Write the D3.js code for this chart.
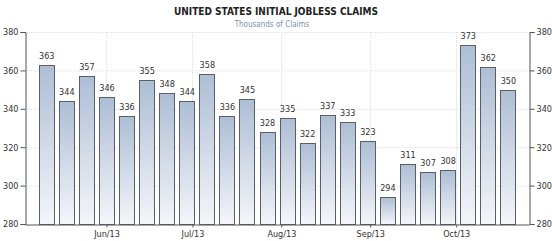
<!DOCTYPE html>
<html lang="en">
    <head>
        <meta charset="utf-8">
        <title>United States Initial Jobless Claims</title>
        <script type="text/javascript" src="https://cdn.jsdelivr.net/npm/d3@7"></script>
        <style type="text/css">
            body { margin: 0; background: #fff; }
            text { font-family: "DejaVu Sans Condensed", "DejaVu Sans", sans-serif; }
        </style>
    </head>
    <body>
        <script type="text/javascript">
            // Week ending dates and initial claims (thousands)
            var weeks = ["2013-05-11", "2013-05-18", "2013-05-25", "2013-06-01", "2013-06-08", "2013-06-15",
                         "2013-06-22", "2013-06-29", "2013-07-06", "2013-07-13", "2013-07-20", "2013-07-27",
                         "2013-08-03", "2013-08-10", "2013-08-17", "2013-08-24", "2013-08-31", "2013-09-07",
                         "2013-09-14", "2013-09-21", "2013-09-28", "2013-10-05", "2013-10-12", "2013-10-19"];
            var claims = [363, 344, 357, 346, 336, 355, 348, 344, 358, 336, 345, 328,
                          335, 322, 337, 333, 323, 294, 311, 307, 308, 373, 362, 350];
            var yTicks = [280, 300, 320, 340, 360, 380];

            var w = 552;
            var h = 241;
            // plot edges (note: "top" is taken by window.top)
            var plotLeft = 25, plotRight = 529, plotTop = 32, plotBottom = 224;
            var barWidth = 15;

            var parse = d3.timeParse("%Y-%m-%d");
            var dates = weeks.map(parse);
            var padDays = 7.4;

            var xScale = d3.scaleTime()
                .domain([d3.timeHour.offset(dates[0], -padDays * 24),
                         d3.timeHour.offset(dates[dates.length - 1], padDays * 24)])
                .range([plotLeft, plotRight]);

            var yScale = d3.scaleLinear()
                .domain([280, 380])
                .range([plotBottom, plotTop]);

            var svg = d3.select("body")
                .append("svg")
                .attr("width", w)
                .attr("height", h);

            var grad = svg.append("defs").append("linearGradient")
                .attr("id", "barGrad")
                .attr("x1", 0).attr("y1", 0).attr("x2", 0).attr("y2", 1);
            grad.append("stop").attr("offset", "0%").attr("stop-color", "#adbed5");
            grad.append("stop").attr("offset", "100%").attr("stop-color", "#f4f6fa");

            // Title
            svg.append("text")
                .attr("x", w / 2)
                .attr("y", 15)
                .attr("text-anchor", "middle")
                .attr("font-size", "10px")
                .attr("font-weight", "bold")
                .attr("fill", "#222")
                .text("UNITED STATES INITIAL JOBLESS CLAIMS");

            svg.append("text")
                .attr("x", w / 2 - 4)
                .attr("y", 27)
                .attr("text-anchor", "middle")
                .attr("font-size", "8px")
                .attr("fill", "#7d8fae")
                .text("Thousands of Claims");

            var months = d3.timeMonth.range(xScale.domain()[0], xScale.domain()[1]);

            // Grid lines
            svg.append("g")
                .selectAll("line")
                .data(yTicks.slice(1))
                .enter()
                .append("line")
                .attr("x1", plotLeft)
                .attr("x2", plotRight)
                .attr("y1", function(d) { return yScale(d) + 0.5; })
                .attr("y2", function(d) { return yScale(d) + 0.5; })
                .attr("stroke", "#d9e0ec")
                .attr("stroke-dasharray", "1,1");

            svg.append("g")
                .selectAll("line")
                .data(months)
                .enter()
                .append("line")
                .attr("x1", function(d) { return Math.round(xScale(d)) + 0.5; })
                .attr("x2", function(d) { return Math.round(xScale(d)) + 0.5; })
                .attr("y1", plotTop)
                .attr("y2", plotBottom)
                .attr("stroke", "#d9e0ec")
                .attr("stroke-dasharray", "1,1");

            // Bars
            svg.append("g")
                .selectAll("rect")
                .data(claims)
                .enter()
                .append("rect")
                .attr("x", function(d, i) { return Math.round(xScale(dates[i]) - barWidth / 2) + 0.5; })
                .attr("y", function(d) { return Math.round(yScale(d)) + 0.5; })
                .attr("width", barWidth)
                .attr("height", function(d) { return plotBottom - Math.round(yScale(d)); })
                .attr("fill", "url(#barGrad)")
                .attr("stroke", "#5a5e66")
                .attr("stroke-width", 1);

            svg.append("g")
                .selectAll("text")
                .data(claims)
                .enter()
                .append("text")
                .text(function(d) { return d; })
                .attr("x", function(d, i) { return xScale(dates[i]) + 0.5; })
                .attr("y", function(d) { return yScale(d) - 6; })
                .attr("text-anchor", "middle")
                .attr("font-size", "9px")
                .attr("fill", "#333");

            // Axes
            var leftAxis = d3.axisLeft(yScale).tickValues(yTicks).tickSize(5).tickPadding(2);
            var rightAxis = d3.axisRight(yScale).tickValues(yTicks).tickSize(5).tickPadding(2);
            var bottomAxis = d3.axisBottom(xScale).tickValues(months)
                .tickFormat(d3.timeFormat("%b/%y")).tickSize(3).tickSizeOuter(0).tickPadding(3);

            function styleAxis(g) {
                g.selectAll("path").attr("stroke", "#555");
                g.selectAll("line").attr("stroke", "#555");
                g.selectAll("text")
                    .attr("fill", "#333")
                    .attr("font-size", "9px")
                    .attr("font-family", "\"DejaVu Sans Condensed\", \"DejaVu Sans\", sans-serif");
            }

            svg.append("g")
                .attr("transform", "translate(0," + (plotBottom + 0.5) + ")")
                .call(bottomAxis)
                .call(styleAxis);

            svg.append("g")
                .attr("transform", "translate(" + (plotLeft + 0.5) + ",0)")
                .call(leftAxis.tickSizeOuter(5))
                .call(styleAxis);

            svg.append("g")
                .attr("transform", "translate(" + (plotRight + 0.5) + ",0)")
                .call(rightAxis.tickSizeOuter(5))
                .call(styleAxis);
        </script>
    </body>
</html>
